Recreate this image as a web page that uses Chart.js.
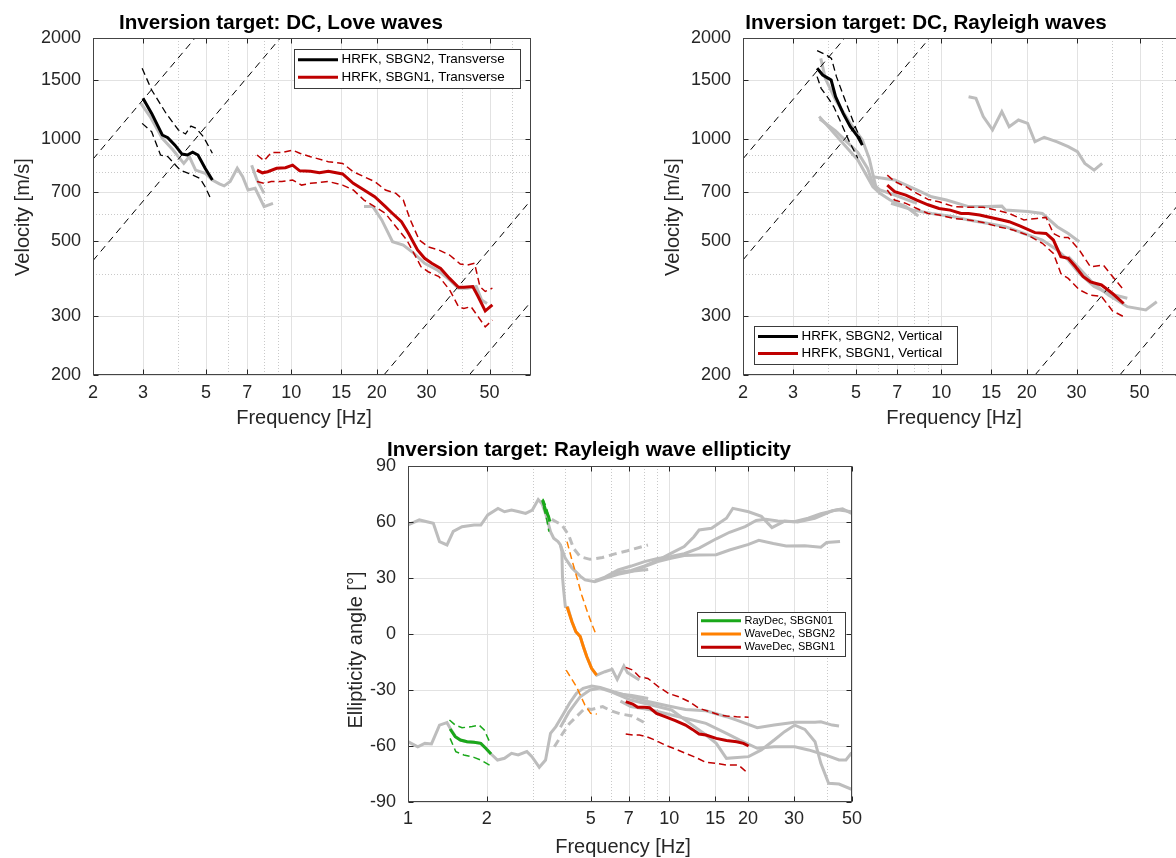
<!DOCTYPE html>
<html lang="en">

<head>
    <meta charset="UTF-8">
    <title>Inversion targets</title>
    <script src="https://cdn.jsdelivr.net/npm/chart.js"></script>
    <style>
        html, body { margin: 0; padding: 0; background: #fff; overflow: hidden; width: 1176px; height: 858px; }
        canvas { position: absolute; }
        #love { left: 0; top: 0; }
        #rayleigh { left: 650px; top: 0; }
        #ellipticity { left: 310px; top: 430px; }
    </style>
</head>

<body>
    <canvas id="love" width="560" height="430"></canvas>
    <canvas id="rayleigh" width="560" height="430"></canvas>
    <canvas id="ellipticity" width="558" height="428"></canvas>

    <script>
        // ---------- axis ticks ----------
        const velTicks = [200, 300, 500, 700, 1000, 1500, 2000];
        const velMinor = [400, 600, 800, 900];
        const dcFreqTicks = [2, 3, 5, 7, 10, 15, 20, 30, 50];
        const dcFreqMinor = [4, 6, 8, 9, 40, 60];
        const ellFreqTicks = [1, 2, 5, 7, 10, 15, 20, 30, 50];
        const ellFreqMinor = [3, 4, 6, 8, 9, 40];
        const ellAngleTicks = [-90, -60, -30, 0, 30, 60, 90];

        // ---------- Love waves (transverse) ----------
        const loveBlackF = [3.00, 3.22, 3.51, 3.67, 3.89, 4.12, 4.30, 4.49, 4.69, 4.97, 5.27];
        const loveBlackV = [1324, 1195, 1031, 1012, 962, 905, 899, 916, 899, 821, 758];
        const loveBlackUpF = [2.98, 3.22, 3.62, 4.00, 4.24, 4.43, 4.62, 4.90, 5.27];
        const loveBlackUpV = [1626, 1402, 1195, 1067, 1038, 1096, 1079, 1019, 910];
        const loveBlackLoF = [2.98, 3.22, 3.46, 3.67, 4.06, 4.49, 4.76, 4.97, 5.19];
        const loveBlackLoV = [1116, 1054, 899, 889, 811, 784, 767, 724, 669];

        const loveRedF = [7.57, 7.91, 8.26, 8.88, 9.54, 10.11, 10.71, 11.69, 12.57, 13.51, 15.17, 16.54, 18.05, 19.68, 21.47,
            22.75, 24.46, 25.92, 27.86, 29.52, 31.27, 33.61, 36.14, 38.85, 40.58, 43.63, 45.56, 48.28, 51.17];
        const loveRedV = [811, 796, 802, 821, 824, 839, 807, 805, 796, 805, 790, 741, 708, 676, 632,
            603, 570, 526, 470, 444, 429, 414, 387, 364, 364, 366, 342, 310, 323];
        const loveRedUpF = [7.57, 8.02, 8.50, 9.27, 10.11, 10.71, 11.69, 13.51, 15.17, 16.54, 18.05, 19.68, 21.47, 23.39,
            24.82, 26.29, 28.25, 30.39, 33.14, 36.14, 39.42, 41.79, 44.27, 46.24, 48.28, 51.17];
        const loveRedUpV = [899, 865, 914, 914, 930, 910, 889, 859, 849, 802, 775, 750, 708, 692,
            661, 577, 503, 480, 470, 454, 427, 424, 429, 366, 354, 362];
        const loveRedLoF = [7.57, 8.02, 8.50, 9.27, 10.11, 10.87, 11.69, 13.51, 15.17, 16.54, 18.05, 19.68, 21.47, 23.39,
            25.54, 27.06, 28.67, 30.39, 33.14, 36.14, 38.85, 40.58, 43.0, 45.56, 48.28, 51.17];
        const loveRedLoV = [750, 741, 750, 750, 758, 732, 741, 750, 732, 708, 661, 632, 603, 551,
            503, 459, 419, 405, 392, 358, 319, 315, 319, 298, 278, 291];

        const loveGrayAF = [2.95, 3.18, 3.51, 3.83, 4.18, 4.37, 4.60, 4.97, 5.27, 5.58, 5.80, 6.09, 6.45, 6.74, 7.04, 7.46, 8.02, 8.62];
        const loveGrayAV = [1280, 1169, 1008, 930, 849, 889, 811, 794, 758, 738, 728, 750, 821, 775, 708, 716, 632, 646];
        const loveGrayBF = [7.25, 7.57, 8.02];
        const loveGrayBV = [839, 758, 692];
        const loveGrayCF = [18.05, 19.39, 20.84, 22.75, 24.82, 27.06, 29.52, 32.67, 36.14, 38.85, 41.79, 44.9, 46.9, 48.98];
        const loveGrayCV = [632, 632, 577, 497, 486, 459, 429, 410, 383, 362, 362, 366, 334, 326];

        // array resolution limits (end points of the dashed guides)
        const loveLimits = [
            { f: [2, 4.58], v: [874, 2000] },
            { f: [2, 9.15], v: [437, 2000] },
            { f: [21.2, 70], v: [200, 661] },
            { f: [42.4, 70], v: [200, 330] }
        ];

        // ---------- Rayleigh waves (vertical) ----------
        const rayBlackF = [3.65, 3.82, 4.00, 4.09, 4.24, 4.51, 4.78, 5.08, 5.27];
        const rayBlackV = [1626, 1553, 1518, 1501, 1339, 1195, 1091, 1019, 962];
        const rayBlackUpF = [3.65, 3.94, 4.10, 4.27, 4.58, 4.92, 5.27];
        const rayBlackUpV = [1834, 1780, 1740, 1536, 1309, 1116, 973];
        const rayBlackLoF = [3.65, 3.77, 4.00, 4.18, 4.44, 4.71, 5.08];
        const rayBlackLoV = [1536, 1418, 1324, 1250, 1116, 997, 879];

        const rayRedF = [6.45, 6.85, 7.5, 8.2, 8.98, 9.82, 10.75, 11.75, 12.48, 13.65, 14.93, 16.35, 17.35, 19.0, 21.39,
            23.41, 24.85, 26.4, 28.03, 29.75, 31.6, 33.55, 36.7, 40.15, 43.94];
        const rayRedV = [732, 700, 684, 661, 640, 624, 617, 603, 603, 597, 587, 577, 570, 553, 529,
            526, 503, 449, 444, 419, 392, 378, 370, 349, 326];
        const rayRedUpF = [6.45, 6.85, 7.5, 8.2, 8.98, 9.82, 11.07, 12.48, 14.06, 15.86, 17.35, 19.56, 21.72, 23.41,
            24.85, 26.4, 28.03, 30.66, 33.55, 37.26, 40.15, 43.94];
        const rayRedUpV = [784, 750, 724, 692, 664, 653, 632, 629, 629, 615, 603, 577, 583, 587,
            526, 512, 512, 470, 419, 424, 392, 358];
        const rayRedLoF = [6.45, 6.85, 7.5, 8.2, 8.98, 9.82, 11.07, 12.48, 14.06, 15.86, 17.88, 20.16, 22.72, 24.85,
            26.4, 28.03, 30.66, 33.55, 36.7, 40.15, 43.94];
        const rayRedLoV = [708, 661, 646, 624, 603, 597, 583, 577, 567, 551, 539, 520, 492, 459,
            400, 387, 358, 345, 342, 310, 298];

        const rayGrayAF = [3.76, 3.90, 4.24, 4.78, 5.27, 5.57, 5.73, 5.90];
        const rayGrayAV = [1740, 1518, 1309, 1116, 997, 879, 793, 716];
        const rayGrayBF = [3.71, 4.0, 4.51, 5.08, 5.74, 6.08, 6.6, 7.5, 8.3];
        const rayGrayBV = [1169, 1091, 973, 869, 724, 692, 661, 632, 593];
        const rayGrayCF = [3.73, 4.24, 5.08, 5.5, 5.73, 6.08, 6.85, 8.2];
        const rayGrayCV = [1150, 1060, 915, 820, 741, 708, 684, 646];
        const rayGrayDF = [5.73, 6.85, 8.2, 9.25, 10.43, 12.48, 14.5, 16.35, 16.84, 20.16, 22.72, 25.62, 28.03, 30.66];
        const rayGrayDV = [775, 758, 708, 676, 661, 632, 632, 634, 617, 611, 603, 551, 526, 497];
        const rayGrayEF = [6.65, 7.96, 9.25, 11.07, 12.48, 14.5, 16.84, 19.56, 22.72, 25.62, 28.03, 30.66, 34.57, 38.97, 45.27];
        const rayGrayEV = [646, 617, 603, 590, 577, 564, 551, 526, 503, 470, 439, 400, 366, 349, 338];
        const rayGrayFF = [28.03, 30.66, 34.57, 38.97, 45.27, 52.6, 57.5];
        const rayGrayFV = [449, 415, 372, 345, 319, 312, 330];
        const rayGrayGF = [12.48, 13.25, 14.06, 15.16, 16.35, 17.35, 18.71, 20.16, 21.39, 23.06, 25.62, 28.03, 30.2, 32.07, 34.57, 36.91];
        const rayGrayGV = [1339, 1324, 1169, 1067, 1209, 1091, 1142, 1116, 984, 1015, 984, 952, 920, 849, 811, 849];

        const rayLimits = [
            { f: [2, 4.57], v: [876, 2000] },
            { f: [2, 9.1], v: [439, 2000] },
            { f: [21.4, 70], v: [200, 654] },
            { f: [42.6, 70], v: [200, 329] }
        ];

        // ---------- Rayleigh wave ellipticity ----------
        const ellGreenF = [1.449, 1.516, 1.586, 1.684, 1.788, 1.899, 1.987, 2.079];
        const ellGreenA = [-50.9, -55.0, -56.8, -57.7, -58.0, -58.6, -61.3, -64.3];
        const ellGreenUpF = [1.441, 1.516, 1.610, 1.760, 1.871, 1.958, 2.051];
        const ellGreenUpA = [-46.1, -48.8, -50.2, -49.6, -48.8, -51.4, -57.7];
        const ellGreenLoF = [1.449, 1.524, 1.635, 1.788, 1.899, 2.051];
        const ellGreenLoA = [-55.9, -63.0, -64.8, -66.1, -67.5, -70.2];
        const ellGreenHiF = [3.27, 3.36, 3.45, 3.49];
        const ellGreenHiA = [71.8, 66.4, 62.9, 60.2];
        const ellGreenHiUpF = [3.28, 3.38, 3.46];
        const ellGreenHiUpA = [72.5, 68.0, 63.0];
        const ellGreenHiLoF = [3.30, 3.40, 3.46];
        const ellGreenHiLoA = [68.0, 61.0, 54.8];

        const ellOrangeF = [4.06, 4.24, 4.39, 4.56, 4.69, 4.83, 5.04, 5.27];
        const ellOrangeA = [14.6, 6.6, 1.2, -1.4, -6.8, -12.1, -18.4, -22.0];
        const ellOrangeUpF = [4.06, 4.24, 4.42, 4.62, 4.83, 5.04, 5.27];
        const ellOrangeUpA = [49.5, 39.6, 30.7, 20.9, 12.9, 5.7, -1.1];
        const ellOrangeLoF = [4.03, 4.41, 4.75, 5.0, 5.28];
        const ellOrangeLoA = [-19.3, -28.2, -38.0, -42.5, -42.9];

        const ellRedF = [6.81, 7.24, 7.57, 8.04, 8.41, 8.93, 9.63, 10.54, 11.53, 12.25, 13.00, 13.81, 15.12, 16.54, 18.10, 19.22, 20.11];
        const ellRedA = [-36.2, -37.5, -39.3, -39.3, -39.5, -42.5, -44.3, -46.4, -48.8, -51.1, -53.6, -54.1, -55.9, -57.1, -57.7, -58.6, -60.0];
        const ellRedUpF = [6.81, 7.24, 7.68, 8.28, 9.07, 9.92, 10.86, 11.88, 13.00, 14.23, 15.57, 16.54, 18.10, 20.11];
        const ellRedUpA = [-17.9, -19.3, -22.9, -23.8, -28.2, -31.8, -33.6, -36.2, -39.8, -41.6, -43.4, -43.9, -44.3, -44.6];
        const ellRedLoF = [6.81, 7.24, 7.68, 8.17, 8.80, 9.63, 10.54, 11.53, 12.62, 13.81, 15.12, 16.54, 18.37, 19.22, 20.11];
        const ellRedLoA = [-53.6, -54.1, -54.1, -55.0, -56.8, -59.5, -61.6, -63.9, -66.1, -68.8, -69.3, -70.2, -70.2, -72.5, -75.0];

        const ellGrayUpperF = [1.0, 1.105, 1.25, 1.32, 1.41, 1.49, 1.61, 1.79, 1.90, 2.02, 2.21, 2.34, 2.49, 2.66, 2.82, 2.99,
            3.15, 3.26, 3.36, 3.51, 3.61, 3.75, 3.83, 3.88, 3.90, 3.94, 4.00, 4.09, 4.24, 4.39, 4.56, 4.69, 4.83, 5.04, 5.27,
            5.67, 6.04, 6.32, 6.70, 6.92, 7.68];
        const ellGrayUpperA = [58.4, 61.1, 59.3, 49.5, 47.7, 55.0, 57.5, 58.4, 58.4, 63.8, 67.3, 65.5, 66.4, 65.5, 64.6, 66.4,
            72.0, 69.6, 64.6, 54.8, 51.3, 49.5, 47.7, 44.1, 30.7, 23.6, 14.6, 14.1, 6.6, 1.2, -1.4, -6.8, -12.1, -18.4, -22.0,
            -20.2, -18.9, -24.3, -17.1, -20.7, -24.6];
        const ellGrayU1F = [3.83, 4.00, 4.24, 4.56, 4.76, 5.19, 5.67, 6.37, 7.15, 8.04, 9.03, 10.14, 11.4, 13.0, 15.12, 17.0,
            20.1, 22.0, 25.0, 28.0, 33.0, 38.0, 40.0, 45.0];
        const ellGrayU1A = [47.7, 40.5, 35.4, 31.0, 29.0, 28.0, 29.8, 32.0, 33.4, 36.1, 38.8, 40.5, 42.0, 42.3, 42.5, 45.0,
            48.0, 50.2, 48.5, 47.2, 47.3, 46.5, 49.0, 49.6];
        const ellGrayU2F = [5.19, 5.67, 6.37, 7.15, 8.04, 9.03, 10.14, 11.4, 13.0, 15.12, 17.0, 19.5, 21.5, 23.4, 26.0, 30.0,
            34.0, 38.0, 44.0, 49.86];
        const ellGrayU2A = [28.5, 30.5, 34.3, 36.4, 38.8, 40.5, 41.5, 43.0, 46.0, 51.0, 54.5, 57.5, 60.8, 61.5, 60.5, 60.2,
            62.0, 64.5, 66.5, 65.5];
        const ellGrayU3F = [6.37, 7.15, 8.04, 9.03, 10.14, 11.4, 12.4, 13.0, 14.5, 16.54, 17.5, 20.1, 22.5, 24.7, 27.6, 31.0,
            36.0, 42.0, 46.0, 49.86];
        const ellGrayU3A = [33.0, 34.0, 36.5, 39.5, 43.2, 46.8, 52.0, 55.7, 56.6, 62.0, 67.3, 65.5, 63.0, 57.0, 60.5, 60.0,
            62.0, 66.0, 67.0, 64.6];
        const ellGrayU4F = [6.0, 7.0, 8.3];
        const ellGrayU4A = [32.5, 33.5, 34.6];
        const ellGrayDashUpF = [3.55, 3.88, 4.12, 4.30, 4.56, 4.97, 5.55, 6.19, 6.92, 8.28];
        const ellGrayDashUpA = [61.4, 58.4, 53.0, 45.9, 41.4, 40.0, 41.0, 42.9, 44.6, 47.7];

        const ellGrayLowerF = [1.0, 1.09, 1.16, 1.23, 1.32, 1.41, 1.45, 1.52, 1.59, 1.68, 1.79, 1.90, 1.99, 2.08, 2.2, 2.34,
            2.49, 2.64, 2.85, 2.98, 3.18, 3.36, 3.51, 3.68, 3.91, 4.15, 4.41, 4.68, 5.05, 5.44, 6.12, 7.12, 8.28, 9.92, 11.53,
            13.81, 16.54, 18.1, 21.7, 25.2, 30.2, 36.1, 38.0, 42.0, 44.6];
        const ellGrayLowerA = [-57.7, -60.4, -58.6, -58.9, -48.8, -47.5, -50.5, -55.0, -56.8, -57.7, -58.0, -58.6, -61.3, -64.3,
            -67.5, -66.6, -63.9, -64.8, -63.0, -65.7, -71.4, -67.5, -53.2, -49.6, -43.4, -37.1, -31.8, -29.1, -27.9, -28.6,
            -30.9, -33.6, -36.2, -38.6, -40.4, -41.1, -44.3, -46.1, -50.2, -48.8, -47.3, -47.3, -47.0, -48.8, -49.3];
        const ellGrayL2F = [3.83, 4.12, 4.56, 4.97, 5.43, 6.0, 7.12, 8.54, 10.2, 12.25, 13.81, 15.12, 16.54, 20.1, 22.5, 25.2,
            27.6, 30.2, 33.0, 36.1, 38.0, 40.7, 44.6, 49.86];
        const ellGrayL2A = [-50.0, -42.0, -33.6, -30.0, -29.0, -31.0, -35.4, -38.0, -40.7, -48.8, -54.1, -58.6, -66.6, -65.7,
            -62.1, -56.8, -52.3, -48.8, -51.1, -57.7, -69.3, -80.0, -80.4, -83.2];
        const ellGrayL3F = [6.5, 7.12, 8.54, 10.2, 12.25, 13.81, 16.54, 18.6, 21.7, 25.2, 30.2, 34.1, 39.5, 44.6, 47.4, 49.86];
        const ellGrayL3A = [-36.0, -38.9, -40.7, -43.4, -46.1, -47.9, -53.2, -56.8, -61.2, -60.4, -60.4, -62.1, -64.8, -67.5,
            -67.5, -63.6];
        const ellGrayL4F = [6.3, 7.2, 8.3];
        const ellGrayL4A = [-32.0, -33.0, -34.5];
        const ellGrayDashLoF = [3.63, 3.91, 4.15, 4.41, 4.75, 5.05, 5.56, 5.95, 6.5, 7.2, 8.04];
        const ellGrayDashLoA = [-60.4, -53.2, -47.9, -44.3, -39.8, -40.4, -38.9, -41.0, -42.8, -43.9, -47.5];

        // ---------- styles ----------
        const FONT = "'Liberation Sans', Arial, Helvetica, sans-serif";
        const GRAY = '#bdbdbd';
        const RED = '#bf0000';
        const GREEN = '#1aa81a';
        const ORANGE = '#ff8000';
        const AXIS = '#262626';
        const DASH = [7, 4];

        Chart.defaults.font.family = FONT;

        function pts(xs, ys) {
            return xs.map((x, i) => ({ x: x, y: ys[i] }));
        }

        function curve(xs, ys, color, width, dash, legendLabel) {
            return {
                data: pts(xs, ys),
                borderColor: color,
                borderWidth: width,
                borderDash: dash || [],
                pointRadius: 0,
                pointHoverRadius: 0,
                fill: false,
                tension: 0,
                legendLabel: legendLabel
            };
        }

        function vLine(ctx, px, a) {
            const p = Math.round(px) + 0.5;
            ctx.beginPath(); ctx.moveTo(p, a.top); ctx.lineTo(p, a.bottom); ctx.stroke();
        }

        function hLine(ctx, py, a) {
            const p = Math.round(py) + 0.5;
            ctx.beginPath(); ctx.moveTo(a.left, p); ctx.lineTo(a.right, p); ctx.stroke();
        }

        // grid under the curves, box and inward ticks on top
        const gridPlugin = {
            id: 'matGrid',
            beforeDatasetsDraw(chart, args, o) {
                const { ctx, chartArea: a, scales } = chart;
                ctx.save();
                ctx.lineWidth = 1;
                ctx.strokeStyle = '#c9c9c9';
                ctx.setLineDash([1, 2]);
                (o.xMinor || []).forEach(v => vLine(ctx, scales.x.getPixelForValue(v), a));
                (o.yMinor || []).forEach(v => hLine(ctx, scales.y.getPixelForValue(v), a));
                ctx.setLineDash([]);
                ctx.strokeStyle = '#e2e2e2';
                scales.x.ticks.forEach(t => vLine(ctx, scales.x.getPixelForValue(t.value), a));
                scales.y.ticks.forEach(t => hLine(ctx, scales.y.getPixelForValue(t.value), a));
                ctx.restore();
            },
            afterDatasetsDraw(chart) {
                const { ctx, chartArea: a, scales } = chart;
                const l = Math.round(a.left) + 0.5, r = Math.round(a.right) - 0.5;
                const t = Math.round(a.top) + 0.5, b = Math.round(a.bottom) - 0.5;
                const len = 5;
                ctx.save();
                ctx.strokeStyle = AXIS;
                ctx.lineWidth = 1;
                ctx.beginPath();
                scales.x.ticks.forEach(tk => {
                    const p = Math.round(scales.x.getPixelForValue(tk.value)) + 0.5;
                    ctx.moveTo(p, b); ctx.lineTo(p, b - len);
                    ctx.moveTo(p, t); ctx.lineTo(p, t + len);
                });
                scales.y.ticks.forEach(tk => {
                    const p = Math.round(scales.y.getPixelForValue(tk.value)) + 0.5;
                    ctx.moveTo(l, p); ctx.lineTo(l + len, p);
                    ctx.moveTo(r, p); ctx.lineTo(r - len, p);
                });
                ctx.stroke();
                ctx.strokeStyle = '#444';
                ctx.strokeRect(l, t, r - l, b - t);
                ctx.restore();
            }
        };

        // boxed legend built from the labelled datasets
        const legendPlugin = {
            id: 'boxLegend',
            afterDraw(chart, args, o) {
                const items = chart.data.datasets.filter(d => d.legendLabel);
                const ctx = chart.ctx;
                ctx.save();
                ctx.fillStyle = '#fff';
                ctx.fillRect(o.x, o.y, o.w, o.h);
                ctx.strokeStyle = '#3a3a3a';
                ctx.lineWidth = 1;
                ctx.strokeRect(o.x + 0.5, o.y + 0.5, o.w, o.h);
                const rowH = (o.h - 4) / items.length;
                ctx.font = o.size + 'px ' + FONT;
                ctx.textBaseline = 'middle';
                items.forEach((d, i) => {
                    const cy = o.y + 2 + rowH * (i + 0.5);
                    ctx.strokeStyle = d.borderColor;
                    ctx.lineWidth = 3;
                    ctx.beginPath();
                    ctx.moveTo(o.x + 4, cy);
                    ctx.lineTo(o.x + 44, cy);
                    ctx.stroke();
                    ctx.fillStyle = '#000';
                    ctx.fillText(d.legendLabel, o.x + 47.5, cy);
                });
                ctx.restore();
            }
        };

        // title and axis labels
        const axisLabelPlugin = {
            id: 'axisLabels',
            afterDraw(chart, args, o) {
                const ctx = chart.ctx;
                ctx.save();
                ctx.textAlign = 'center';
                ctx.textBaseline = 'middle';
                ctx.fillStyle = '#000';
                ctx.font = 'bold 20.6px ' + FONT;
                ctx.fillText(o.title, o.titleAt[0], o.titleAt[1]);
                ctx.font = '20px ' + FONT;
                ctx.fillStyle = AXIS;
                ctx.fillText(o.xText, o.xAt[0], o.xAt[1]);
                ctx.translate(o.yAt[0], o.yAt[1]);
                ctx.rotate(-Math.PI / 2);
                ctx.fillText(o.yText, 0, 0);
                ctx.restore();
            }
        };

        function makeChart(id, cfg) {
            const tickFont = { size: 18 };
            // first dataset in the list is drawn lowest
            cfg.datasets.forEach((d, i, arr) => { d.order = arr.length - i; });
            return new Chart(document.getElementById(id), {
                type: 'line',
                data: { datasets: cfg.datasets },
                plugins: [gridPlugin, legendPlugin, axisLabelPlugin],
                options: {
                    responsive: false,
                    devicePixelRatio: 1,
                    animation: false,
                    events: [],
                    layout: { padding: { left: 0, right: cfg.padRight, top: cfg.padTop, bottom: 0 } },
                    scales: {
                        x: {
                            type: 'logarithmic',
                            min: cfg.xMin,
                            max: cfg.xMax,
                            grid: { display: false, drawTicks: false, tickLength: 0 },
                            border: { display: false },
                            ticks: {
                                autoSkip: false, maxRotation: 0, padding: cfg.xPad,
                                color: AXIS, font: tickFont, callback: v => String(v)
                            },
                            afterBuildTicks: s => { s.ticks = cfg.xTicks.map(v => ({ value: v })); },
                            afterFit: s => { s.height = cfg.bottomH; }
                        },
                        y: {
                            type: cfg.yType,
                            min: cfg.yMin,
                            max: cfg.yMax,
                            grid: { display: false, drawTicks: false, tickLength: 0 },
                            border: { display: false },
                            ticks: {
                                autoSkip: false, padding: 12,
                                color: AXIS, font: tickFont, callback: v => String(v)
                            },
                            afterBuildTicks: s => { s.ticks = cfg.yTicks.map(v => ({ value: v })); },
                            afterFit: s => { s.width = cfg.leftW; }
                        }
                    },
                    plugins: {
                        legend: { display: false },
                        tooltip: { enabled: false },
                        title: { display: false },
                        matGrid: { xMinor: cfg.xMinor, yMinor: cfg.yMinor },
                        boxLegend: cfg.legend,
                        axisLabels: cfg.labels
                    }
                }
            });
        }

        function limitCurves(list) {
            return list.map(l => curve(l.f, l.v, '#000', 1, [7, 5]));
        }

        // Love waves
        makeChart('love', {
            xMin: 2, xMax: 70, xTicks: dcFreqTicks, xMinor: dcFreqMinor, xPad: 7,
            yType: 'logarithmic', yMin: 200, yMax: 2000, yTicks: velTicks, yMinor: velMinor,
            leftW: 93, bottomH: 55, padRight: 29, padTop: 38,
            legend: { x: 294, y: 49, w: 226, h: 39, size: 13.4 },
            labels: {
                title: 'Inversion target: DC, Love waves', titleAt: [281, 23],
                xText: 'Frequency [Hz]', xAt: [304, 418], yText: 'Velocity [m/s]', yAt: [23, 217]
            },
            datasets: [
                curve(loveGrayAF, loveGrayAV, GRAY, 3),
                curve(loveGrayBF, loveGrayBV, GRAY, 3),
                curve(loveGrayCF, loveGrayCV, GRAY, 3),
                ...limitCurves(loveLimits),
                curve(loveBlackUpF, loveBlackUpV, '#000', 1.3, DASH),
                curve(loveBlackLoF, loveBlackLoV, '#000', 1.3, DASH),
                curve(loveBlackF, loveBlackV, '#000', 3, [], 'HRFK, SBGN2, Transverse'),
                curve(loveRedUpF, loveRedUpV, RED, 1.5, DASH),
                curve(loveRedLoF, loveRedLoV, RED, 1.5, DASH),
                curve(loveRedF, loveRedV, RED, 3, [], 'HRFK, SBGN1, Transverse')
            ]
        });

        // Rayleigh waves
        makeChart('rayleigh', {
            xMin: 2, xMax: 70, xTicks: dcFreqTicks, xMinor: dcFreqMinor, xPad: 7,
            yType: 'logarithmic', yMin: 200, yMax: 2000, yTicks: velTicks, yMinor: velMinor,
            leftW: 93, bottomH: 55, padRight: 29, padTop: 38,
            legend: { x: 104, y: 326, w: 203, h: 38, size: 13.4 },
            labels: {
                title: 'Inversion target: DC, Rayleigh waves', titleAt: [276, 23],
                xText: 'Frequency [Hz]', xAt: [304, 418], yText: 'Velocity [m/s]', yAt: [23, 217]
            },
            datasets: [
                curve(rayGrayAF, rayGrayAV, GRAY, 3),
                curve(rayGrayBF, rayGrayBV, GRAY, 3),
                curve(rayGrayCF, rayGrayCV, GRAY, 3),
                curve(rayGrayDF, rayGrayDV, GRAY, 3),
                curve(rayGrayEF, rayGrayEV, GRAY, 3),
                curve(rayGrayFF, rayGrayFV, GRAY, 3),
                curve(rayGrayGF, rayGrayGV, GRAY, 3),
                ...limitCurves(rayLimits),
                curve(rayBlackUpF, rayBlackUpV, '#000', 1.3, DASH),
                curve(rayBlackLoF, rayBlackLoV, '#000', 1.3, DASH),
                curve(rayBlackF, rayBlackV, '#000', 3, [], 'HRFK, SBGN2, Vertical'),
                curve(rayRedUpF, rayRedUpV, RED, 1.5, DASH),
                curve(rayRedLoF, rayRedLoV, RED, 1.5, DASH),
                curve(rayRedF, rayRedV, RED, 3, [], 'HRFK, SBGN1, Vertical')
            ]
        });

        // Ellipticity
        makeChart('ellipticity', {
            xMin: 1, xMax: 50, xTicks: ellFreqTicks, xMinor: ellFreqMinor, xPad: 6,
            yType: 'linear', yMin: -90, yMax: 90, yTicks: ellAngleTicks, yMinor: [],
            leftW: 98, bottomH: 56, padRight: 12, padTop: 36,
            legend: { x: 387, y: 182, w: 148, h: 44, size: 11 },
            labels: {
                title: 'Inversion target: Rayleigh wave ellipticity', titleAt: [279, 20],
                xText: 'Frequency [Hz]', xAt: [313, 417], yText: 'Ellipticity angle [°]', yAt: [46, 220]
            },
            datasets: [
                curve(ellGrayUpperF, ellGrayUpperA, GRAY, 3),
                curve(ellGrayU1F, ellGrayU1A, GRAY, 3),
                curve(ellGrayU2F, ellGrayU2A, GRAY, 3),
                curve(ellGrayU3F, ellGrayU3A, GRAY, 3),
                curve(ellGrayU4F, ellGrayU4A, GRAY, 3),
                curve(ellGrayDashUpF, ellGrayDashUpA, GRAY, 3, [8, 5]),
                curve(ellGrayLowerF, ellGrayLowerA, GRAY, 3),
                curve(ellGrayL2F, ellGrayL2A, GRAY, 3),
                curve(ellGrayL3F, ellGrayL3A, GRAY, 3),
                curve(ellGrayL4F, ellGrayL4A, GRAY, 3),
                curve(ellGrayDashLoF, ellGrayDashLoA, GRAY, 3, [8, 5]),
                curve(ellGreenUpF, ellGreenUpA, GREEN, 1.5, DASH),
                curve(ellGreenLoF, ellGreenLoA, GREEN, 1.5, DASH),
                curve(ellGreenHiUpF, ellGreenHiUpA, GREEN, 1.5, DASH),
                curve(ellGreenHiLoF, ellGreenHiLoA, GREEN, 1.5, DASH),
                curve(ellGreenF, ellGreenA, GREEN, 3, [], 'RayDec, SBGN01'),
                curve(ellGreenHiF, ellGreenHiA, GREEN, 3),
                curve(ellOrangeUpF, ellOrangeUpA, ORANGE, 1.5, DASH),
                curve(ellOrangeLoF, ellOrangeLoA, ORANGE, 1.5, DASH),
                curve(ellOrangeF, ellOrangeA, ORANGE, 3, [], 'WaveDec, SBGN2'),
                curve(ellRedUpF, ellRedUpA, RED, 1.5, DASH),
                curve(ellRedLoF, ellRedLoA, RED, 1.5, DASH),
                curve(ellRedF, ellRedA, RED, 3, [], 'WaveDec, SBGN1')
            ]
        });
    </script>
</body>

</html>
